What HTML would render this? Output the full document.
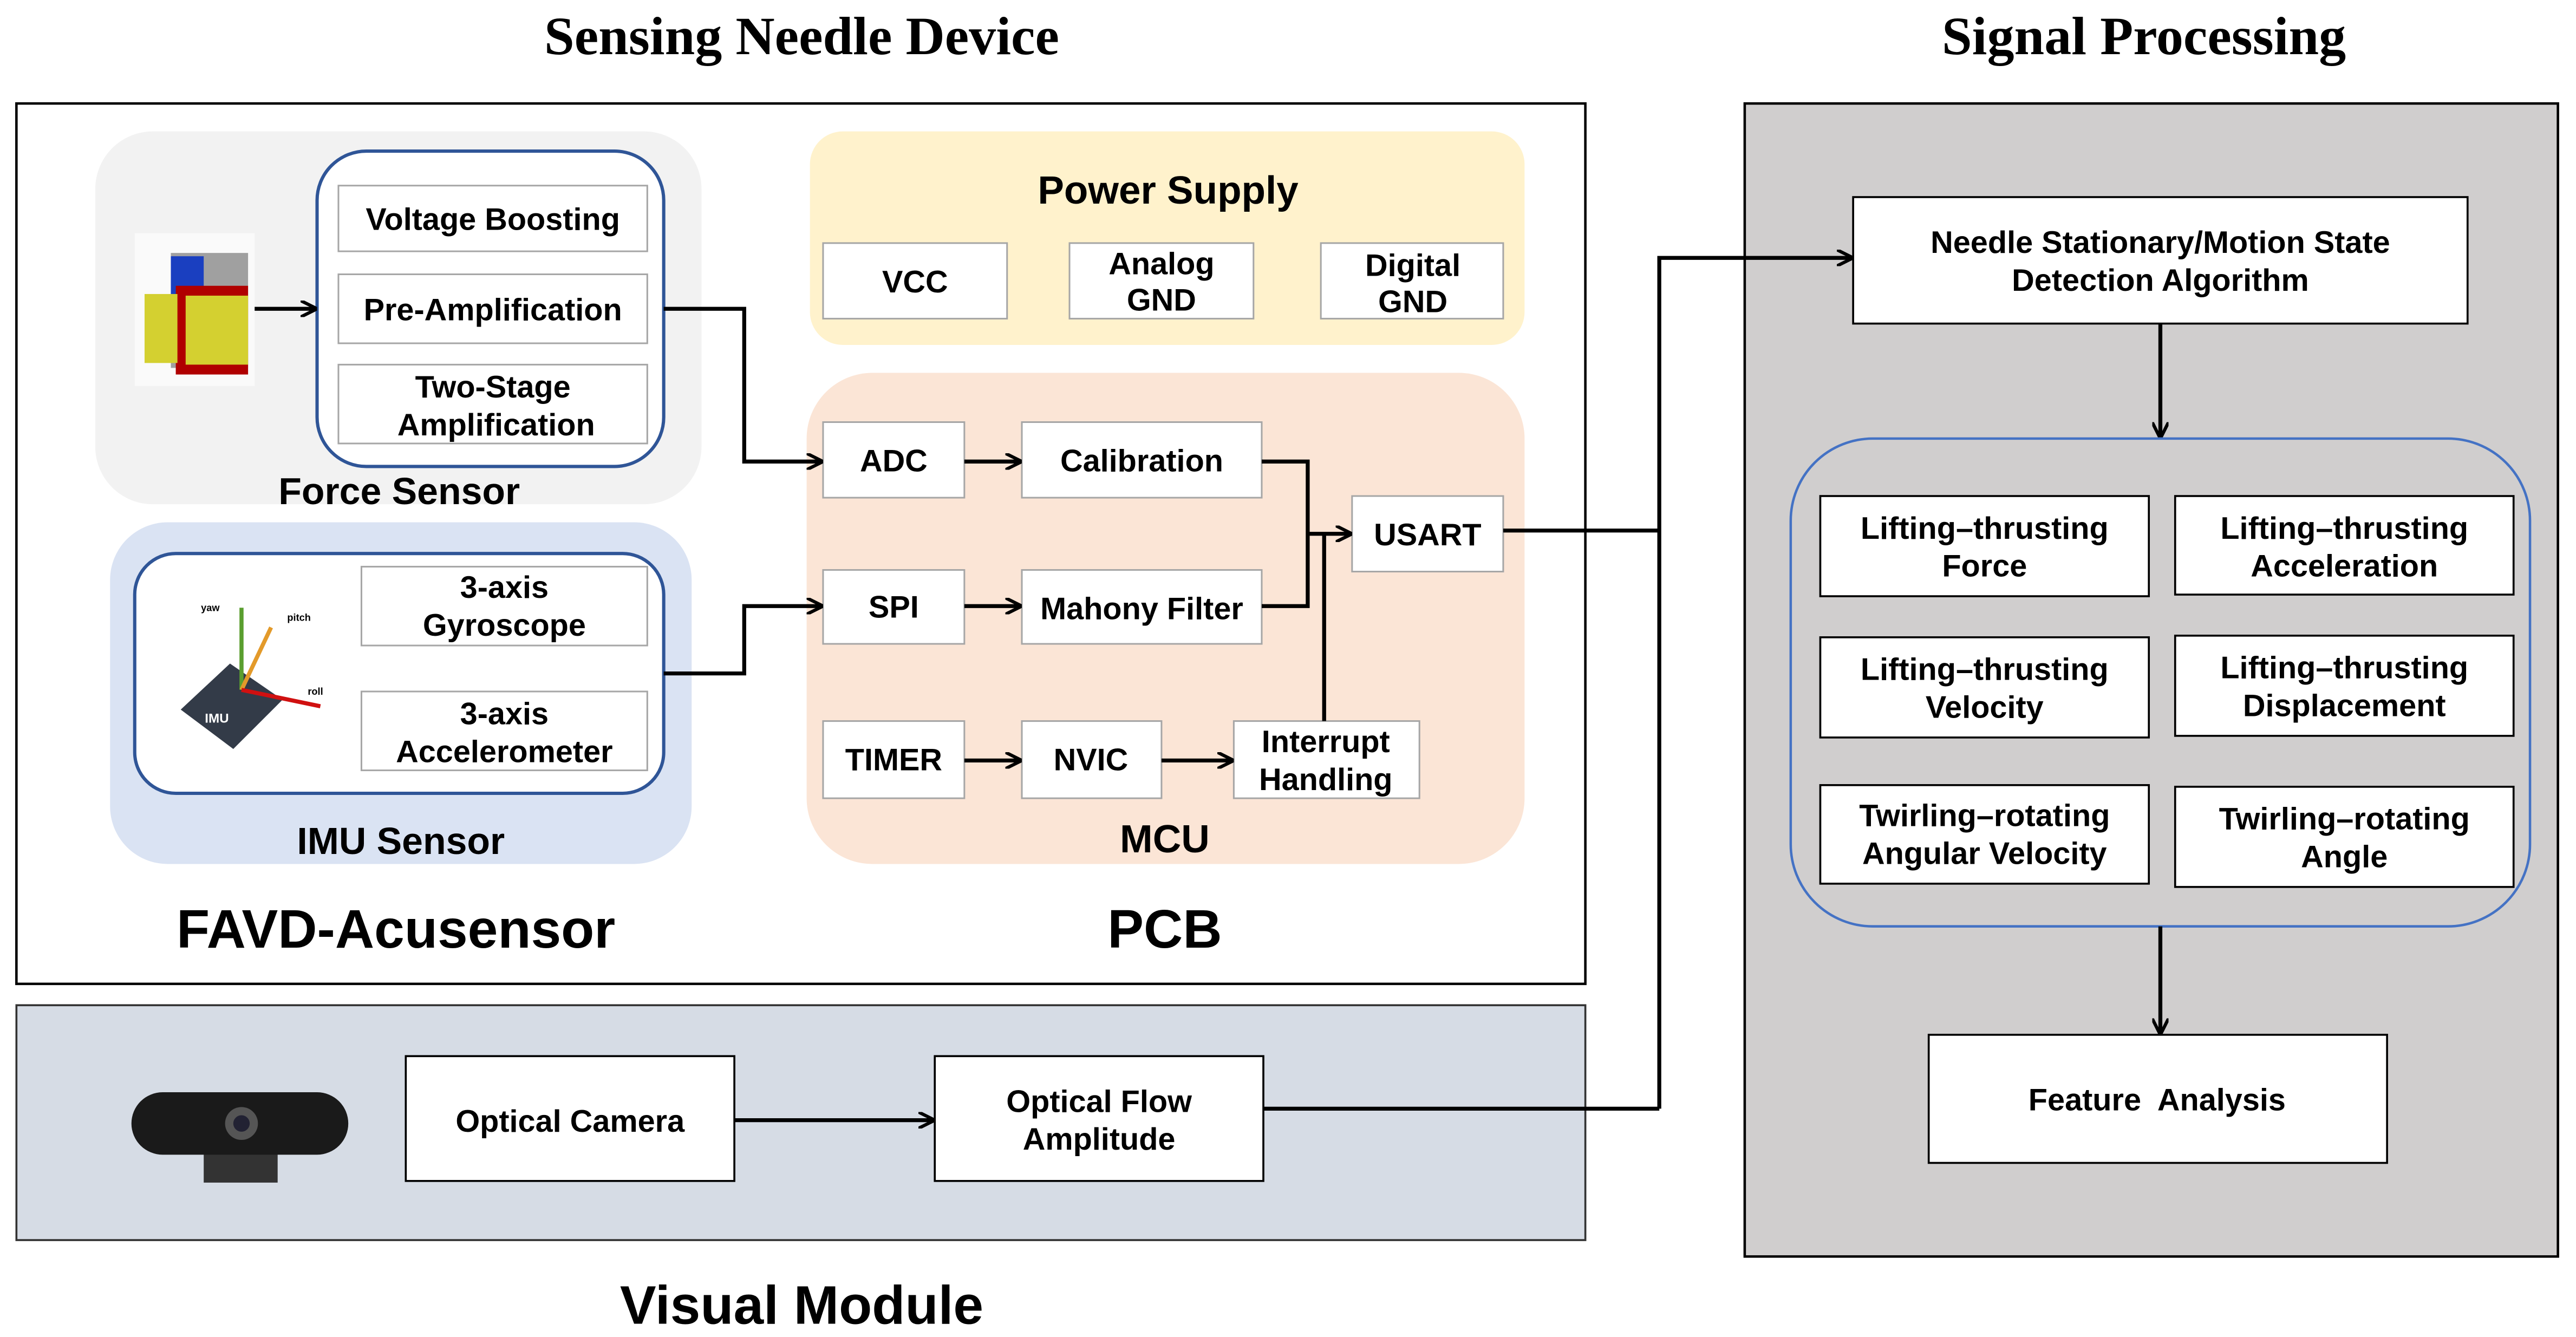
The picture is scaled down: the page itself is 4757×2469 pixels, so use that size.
<!DOCTYPE html>
<html><head><meta charset="utf-8"><style>
html,body{margin:0;padding:0;background:#fff;}
svg{display:block;}
text{font-family:"Liberation Sans",Arial,sans-serif;font-weight:bold;fill:#000;text-anchor:middle;}
.t{font-family:"Liberation Serif",serif;font-size:33px;}
.b{font-size:19px;}
.bx{fill:#fff;stroke:#000;stroke-width:1.2;}
.gb{fill:#fff;stroke:#a6a6a6;stroke-width:1;}
.ln{fill:none;stroke:#000;stroke-width:2.4;}
</style></head><body>
<svg width="4757" height="2469" viewBox="0 0 1568 814" preserveAspectRatio="none" xmlns="http://www.w3.org/2000/svg">
<defs><marker id="a" markerWidth="10" markerHeight="10" refX="9" refY="5" orient="auto" markerUnits="userSpaceOnUse"><path d="M0,0 L10,5 L0,10" fill="none" stroke="#000" stroke-width="2"/></marker></defs>
<text class="t" x="488" y="33">Sensing Needle Device</text>
<text class="t" x="1305" y="33">Signal Processing</text>
<rect x="10" y="63" width="955" height="536" fill="#fff" stroke="#000" stroke-width="1.5"/>
<!-- Force sensor -->
<rect x="58" y="80" width="369" height="227" rx="35" fill="#f2f2f2"/>
<rect x="193" y="92" width="211" height="192" rx="30" fill="#fff" stroke="#2f5597" stroke-width="2"/>
<rect class="gb" x="206" y="113" width="188" height="40"/><text class="b" x="300" y="140">Voltage Boosting</text>
<rect class="gb" x="206" y="167" width="188" height="42"/><text class="b" x="300" y="195">Pre-Amplification</text>
<rect class="gb" x="206" y="222" width="188" height="48"/><text class="b" x="300" y="242">Two-Stage</text><text class="b" x="302" y="265">Amplification</text>
<rect x="82" y="142" width="73" height="93" fill="#fafafa"/>
<rect x="104" y="154" width="47" height="70" fill="#a0a0a0"/>
<rect x="104" y="156" width="20" height="40" fill="#1a3fc0"/>
<rect x="107" y="174" width="44" height="54" fill="#b00000"/>
<rect x="113" y="180" width="38" height="42" fill="#d4d030"/>
<rect x="88" y="179" width="20" height="42" fill="#d4d030"/>
<line class="ln" x1="155" y1="188" x2="192" y2="188" marker-end="url(#a)"/>
<text x="243" y="307" style="font-size:23px">Force Sensor</text>
<!-- IMU -->
<rect x="67" y="318" width="354" height="208" rx="35" fill="#dae3f3"/>
<rect x="82" y="337" width="322" height="146" rx="25" fill="#fff" stroke="#2f5597" stroke-width="2"/>
<rect x="96" y="355" width="110" height="107" fill="#fff"/>
<polygon points="110,432 140,404 172,426 142,456" fill="#333b48"/>
<line x1="147" y1="420" x2="147" y2="370" stroke="#5a9e2f" stroke-width="2.5"/>
<line x1="147" y1="420" x2="165" y2="382" stroke="#e39a2a" stroke-width="2.5"/>
<line x1="147" y1="420" x2="195" y2="430" stroke="#d01010" stroke-width="2.5"/>
<text x="128" y="372" style="font-size:6px">yaw</text><text x="182" y="378" style="font-size:6px">pitch</text><text x="192" y="423" style="font-size:6px">roll</text>
<text x="132" y="440" style="font-size:8px;fill:#fff">IMU</text>
<rect class="gb" x="220" y="345" width="174" height="48"/><text class="b" x="307" y="364">3-axis</text><text class="b" x="307" y="387">Gyroscope</text>
<rect class="gb" x="220" y="421" width="174" height="48"/><text class="b" x="307" y="441">3-axis</text><text class="b" x="307" y="464">Accelerometer</text>
<text x="244" y="520" style="font-size:23px">IMU Sensor</text>
<text x="241" y="577" style="font-size:33px">FAVD-Acusensor</text>
<!-- Power -->
<rect x="493" y="80" width="435" height="130" rx="20" fill="#fff2cc"/>
<text x="711" y="124" style="font-size:24px">Power Supply</text>
<rect class="gb" x="501" y="148" width="112" height="46"/><text class="b" x="557" y="178">VCC</text>
<rect class="gb" x="651" y="148" width="112" height="46"/><text class="b" x="707" y="167">Analog</text><text class="b" x="707" y="189">GND</text>
<rect class="gb" x="804" y="148" width="111" height="46"/><text class="b" x="860" y="168">Digital</text><text class="b" x="860" y="190">GND</text>
<!-- MCU -->
<rect x="491" y="227" width="437" height="299" rx="40" fill="#fbe5d6"/>
<rect class="gb" x="501" y="257" width="86" height="46"/><text class="b" x="544" y="287">ADC</text>
<rect class="gb" x="622" y="257" width="146" height="46"/><text class="b" x="695" y="287">Calibration</text>
<rect class="gb" x="501" y="347" width="86" height="45"/><text class="b" x="544" y="376">SPI</text>
<rect class="gb" x="622" y="347" width="146" height="45"/><text class="b" x="695" y="377">Mahony Filter</text>
<rect class="gb" x="501" y="439" width="86" height="47"/><text class="b" x="544" y="469">TIMER</text>
<rect class="gb" x="622" y="439" width="85" height="47"/><text class="b" x="664" y="469">NVIC</text>
<rect class="gb" x="751" y="439" width="113" height="47"/><text class="b" x="807" y="458">Interrupt</text><text class="b" x="807" y="481">Handling</text>
<rect class="gb" x="823" y="302" width="92" height="46"/><text class="b" x="869" y="332">USART</text>
<text x="709" y="519" style="font-size:24px">MCU</text>
<text x="709" y="577" style="font-size:33px">PCB</text>
<path class="ln" d="M404,188 H453 V281 H500" marker-end="url(#a)"/>
<path class="ln" d="M404,410 H453 V369 H500" marker-end="url(#a)"/>
<line class="ln" x1="587" y1="281" x2="621" y2="281" marker-end="url(#a)"/>
<line class="ln" x1="587" y1="369" x2="621" y2="369" marker-end="url(#a)"/>
<line class="ln" x1="587" y1="463" x2="621" y2="463" marker-end="url(#a)"/>
<line class="ln" x1="707" y1="463" x2="750" y2="463" marker-end="url(#a)"/>
<path class="ln" d="M768,281 H796 V369 H768"/>
<line class="ln" x1="796" y1="325" x2="822" y2="325" marker-end="url(#a)"/>
<line class="ln" x1="806" y1="439" x2="806" y2="325"/>
<path class="ln" d="M915,323 H1010"/>
<!-- Visual module -->
<rect x="10" y="612" width="955" height="143" fill="#d6dce5" stroke="#333" stroke-width="1.2"/>
<rect x="124" y="690" width="45" height="30" fill="#333"/>
<rect x="80" y="665" width="132" height="38" rx="19" fill="#1a1a1a"/>
<circle cx="147" cy="684" r="10" fill="#555"/><circle cx="147" cy="684" r="5" fill="#223"/>
<rect class="bx" x="247" y="643" width="200" height="76"/><text class="b" x="347" y="689">Optical Camera</text>
<line class="ln" x1="447" y1="682" x2="568" y2="682" marker-end="url(#a)"/>
<rect class="bx" x="569" y="643" width="200" height="76"/><text class="b" x="669" y="677">Optical Flow</text><text class="b" x="669" y="700">Amplitude</text>
<path class="ln" d="M769,675 H1010"/>
<text x="488" y="806" style="font-size:33px">Visual Module</text>
<!-- Signal processing -->
<rect x="1062" y="63" width="495" height="702" fill="#d0cece" stroke="#000" stroke-width="1.5"/>
<path class="ln" d="M1010,675 V157 H1127" marker-end="url(#a)"/>
<rect class="bx" x="1128" y="120" width="374" height="77"/><text class="b" x="1315" y="154">Needle Stationary/Motion State</text><text class="b" x="1315" y="177">Detection Algorithm</text>
<line class="ln" x1="1315" y1="197" x2="1315" y2="266" marker-end="url(#a)"/>
<rect x="1090" y="267" width="450" height="297" rx="50" fill="#d0cece" stroke="#4472c4" stroke-width="1.5"/>
<rect class="bx" x="1108" y="302" width="200" height="61"/><text class="b" x="1208" y="328">Lifting–thrusting</text><text class="b" x="1208" y="351">Force</text>
<rect class="bx" x="1324" y="302" width="206" height="60"/><text class="b" x="1427" y="328">Lifting–thrusting</text><text class="b" x="1427" y="351">Acceleration</text>
<rect class="bx" x="1108" y="388" width="200" height="61"/><text class="b" x="1208" y="414">Lifting–thrusting</text><text class="b" x="1208" y="437">Velocity</text>
<rect class="bx" x="1324" y="387" width="206" height="61"/><text class="b" x="1427" y="413">Lifting–thrusting</text><text class="b" x="1427" y="436">Displacement</text>
<rect class="bx" x="1108" y="478" width="200" height="60"/><text class="b" x="1208" y="503">Twirling–rotating</text><text class="b" x="1208" y="526">Angular Velocity</text>
<rect class="bx" x="1324" y="479" width="206" height="61"/><text class="b" x="1427" y="505">Twirling–rotating</text><text class="b" x="1427" y="528">Angle</text>
<line class="ln" x1="1315" y1="564" x2="1315" y2="629" marker-end="url(#a)"/>
<rect class="bx" x="1174" y="630" width="279" height="78"/><text class="b" x="1313" y="676" xml:space="preserve">Feature  Analysis</text>
</svg>
</body></html>
